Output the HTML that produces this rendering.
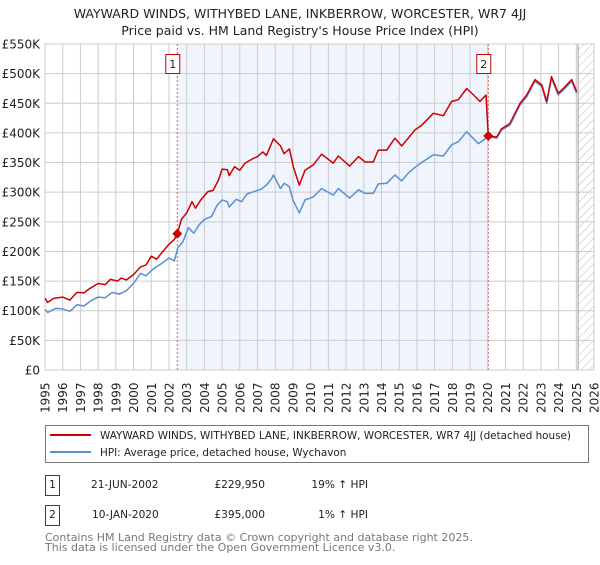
<!DOCTYPE html>
<html><head><meta charset="utf-8"><style>
body{margin:0;background:#fff;font-family:"Liberation Sans","DejaVu Sans",sans-serif;}
svg text{font-family:"DejaVu Sans","Liberation Sans",sans-serif;}
</style></head><body>
<svg id="c" width="600" height="560" viewBox="0 0 600 560" xmlns="http://www.w3.org/2000/svg">
<defs><pattern id="hatch" width="6" height="6" patternUnits="userSpaceOnUse" patternTransform="rotate(45)"><line x1="0" y1="0" x2="0" y2="6" stroke="#bbb" stroke-width="1"/></pattern></defs>
<text x="300" y="18" text-anchor="middle" font-size="12.5" fill="#222">WAYWARD WINDS, WITHYBED LANE, INKBERROW, WORCESTER, WR7 4JJ</text>
<text x="300" y="35" text-anchor="middle" font-size="12.5" fill="#222">Price paid vs. HM Land Registry's House Price Index (HPI)</text>
<g id="plot"></g>
<g>
<rect x="45.5" y="425.5" width="543" height="37" fill="#fff" stroke="#777"/>
<line x1="50" y1="435" x2="91" y2="435" stroke="#cc0000" stroke-width="2"/>
<text x="100" y="439" font-size="10.4" fill="#222">WAYWARD WINDS, WITHYBED LANE, INKBERROW, WORCESTER, WR7 4JJ (detached house)</text>
<line x1="50" y1="452" x2="91" y2="452" stroke="#5b8fd0" stroke-width="2"/>
<text x="100" y="456" font-size="10.4" fill="#222">HPI: Average price, detached house, Wychavon</text>
</g>
<g font-size="10.6" fill="#222">
<rect x="45.5" y="475.5" width="14" height="20" fill="#fff" stroke="#cc0000"/>
<text x="52.5" y="488" text-anchor="middle">1</text>
<text x="91" y="488">21-JUN-2002</text>
<text x="265" y="488" text-anchor="end">£229,950</text>
<text x="368" y="488" text-anchor="end">19% ↑ HPI</text>
<rect x="45.5" y="505.5" width="14" height="20" fill="#fff" stroke="#cc0000"/>
<text x="52.5" y="518" text-anchor="middle">2</text>
<text x="92" y="518">10-JAN-2020</text>
<text x="265" y="518" text-anchor="end">£395,000</text>
<text x="368" y="518" text-anchor="end">1% ↑ HPI</text>
</g>
<text x="45" y="541" font-size="11" fill="#777">Contains HM Land Registry data © Crown copyright and database right 2025.</text>
<text x="45" y="551" font-size="11" fill="#777">This data is licensed under the Open Government Licence v3.0.</text>
</svg>
<script>
const yTickValues=[0,50,100,150,200,250,300,350,400,450,500,550];
const yTickLabels=["£0","£50K","£100K","£150K","£200K","£250K","£300K","£350K","£400K","£450K","£500K","£550K"];
const xTickYears=[1995,1996,1997,1998,1999,2000,2001,2002,2003,2004,2005,2006,2007,2008,2009,2010,2011,2012,2013,2014,2015,2016,2017,2018,2019,2020,2021,2022,2023,2024,2025,2026];
const hpiYears=[1995.0,1995.15,1995.6,1996.0,1996.4,1996.8,1997.2,1997.6,1998.0,1998.4,1998.8,1999.2,1999.6,2000.0,2000.4,2000.7,2001.1,2001.6,2002.0,2002.3,2002.5,2002.8,2003.1,2003.4,2003.7,2004.0,2004.4,2004.7,2005.0,2005.3,2005.4,2005.8,2006.1,2006.4,2006.8,2007.2,2007.5,2007.8,2007.9,2008.3,2008.5,2008.8,2009.0,2009.36,2009.68,2010.15,2010.62,2011.28,2011.56,2012.2,2012.7,2013.07,2013.54,2013.82,2014.3,2014.76,2015.14,2015.51,2015.89,2016.27,2016.93,2017.49,2017.96,2018.34,2018.81,2019.47,2020.03,2020.5,2020.78,2021.25,2021.82,2022.2,2022.67,2023.05,2023.33,2023.6,2023.98,2024.26,2024.74,2025.02];
const hpiValues=[102,97,104,103,99,110,108,117,123,122,131,128,134,146,163,159,170,180,189,184,206,217,240,231,245,254,259,277,287,284,275,288,284,297,301,305,312,323,329,306,315,309,287,265,287,292,306,295,306,290,304,298,298,314,315,329,319,332,342,350,363,361,380,385,402,382,394,391,405,413,447,461,487,478,450,492,464,472,487,467];
const priceYears=[1995.0,1995.15,1995.5,1996.0,1996.4,1996.8,1997.2,1997.5,1998.0,1998.4,1998.7,1999.1,1999.3,1999.6,2000.0,2000.4,2000.7,2001.0,2001.3,2001.6,2002.0,2002.3,2002.47,2002.7,2003.0,2003.3,2003.5,2003.8,2004.2,2004.5,2004.8,2005.0,2005.3,2005.4,2005.7,2006.0,2006.3,2006.7,2007.0,2007.3,2007.5,2007.8,2007.9,2008.3,2008.5,2008.8,2009.02,2009.36,2009.68,2010.15,2010.62,2011.28,2011.56,2012.2,2012.7,2013.07,2013.54,2013.82,2014.3,2014.76,2015.14,2015.51,2015.89,2016.27,2016.93,2017.49,2017.96,2018.34,2018.81,2019.2,2019.56,2019.9,2020.03,2020.5,2020.78,2021.25,2021.82,2022.2,2022.67,2023.05,2023.33,2023.6,2023.98,2024.26,2024.74,2025.02];
const priceValues=[121,114,121,123,118,131,130,137,146,144,153,150,155,152,161,174,177,192,187,198,212,220,230,254,265,284,273,287,301,303,321,339,338,328,343,337,349,356,360,368,362,383,390,378,365,373,343,312,337,346,364,349,361,344,360,351,351,371,371,391,378,391,405,413,433,429,453,456,475,464,453,464,395,393,407,416,450,464,490,481,453,495,467,475,490,470];
const saleYears=[2002.47,2020.03];
const saleValues=[229.95,395];
const saleLabels=["1","2"];
const hatchStartYear=2025.1;

const X0=45,X1=594,Y0=44,Y1=370,YMIN=1995,YMAX=2026,VMAX=550;
const xs=y=>X0+(y-YMIN)/(YMAX-YMIN)*(X1-X0);
const ys=v=>Y1-v/VMAX*(Y1-Y0);
const NS="http://www.w3.org/2000/svg";
const g=document.getElementById('plot');
function mk(tag,attrs){const e=document.createElementNS(NS,tag);for(const k in attrs)e.setAttribute(k,attrs[k]);g.appendChild(e);return e;}
let e;
e=mk('rect',{x:xs(saleYears[0]),y:Y0,width:xs(saleYears[1])-xs(saleYears[0]),height:Y1-Y0,fill:'#f0f4fd'});


e=mk('rect',{x:xs(hatchStartYear),y:Y0,width:X1-xs(hatchStartYear),height:Y1-Y0,fill:'url(#hatch)'});


xTickYears.forEach(yr=>{
 e=mk('line',{x1:xs(yr),x2:xs(yr),y1:Y0,y2:Y1,stroke:'#ccc','stroke-width':1});
 
 
 e=mk('text',{x:0,y:0,transform:`translate(${xs(yr)+4.5},${Y1+43}) rotate(-90)`,'font-size':12,fill:'#222'});
 e.textContent=yr;
 
 
});
yTickValues.forEach((v,i)=>{
 e=mk('line',{x1:X0,x2:X1,y1:ys(v),y2:ys(v),stroke:'#ccc','stroke-width':1});
 
 
 e=mk('text',{x:40,y:ys(v)+4.5,'text-anchor':'end','font-size':12,fill:'#222'});
 e.textContent=yTickLabels[i];
 
 
});
e=mk('line',{x1:xs(hatchStartYear),x2:xs(hatchStartYear),y1:Y0,y2:Y1,stroke:'#999','stroke-width':1});


e=mk('rect',{x:X0,y:Y0,width:X1-X0,height:Y1-Y0,fill:'none',stroke:'#ccc'});


saleYears.forEach((yr,i)=>{
 e=mk('line',{x1:xs(yr),x2:xs(yr),y1:Y0,y2:Y1,stroke:'#e55','stroke-width':1,'stroke-dasharray':'2,2'});
 
 
 e=mk('rect',{x:xs(yr)-11.5,y:54.5,width:14,height:19,fill:'#fff',stroke:'#cc0000'});
 
 
 e=mk('text',{x:xs(yr)-4.5,y:68,'text-anchor':'middle','font-size':11,fill:'#222'});
 e.textContent=saleLabels[i];
 
 
});
function path(years,vals){return years.map((y,i)=>(i?'L':'M')+xs(y).toFixed(1)+','+ys(vals[i]).toFixed(1)).join('');}
e=mk('path',{d:path(hpiYears,hpiValues),fill:'none',stroke:'#5b8fd0','stroke-width':1.5,'stroke-linejoin':'round'});


e=mk('path',{d:path(priceYears,priceValues),fill:'none',stroke:'#cc0000','stroke-width':1.5,'stroke-linejoin':'round'});


saleYears.forEach((yr,i)=>{
 const cx=xs(yr),cy=ys(saleValues[i]);
 e=mk('path',{d:`M${cx},${cy-5}L${cx+5},${cy}L${cx},${cy+5}L${cx-5},${cy}Z`,fill:'#cc0000'});
 
 
});
</script>
</body></html>
